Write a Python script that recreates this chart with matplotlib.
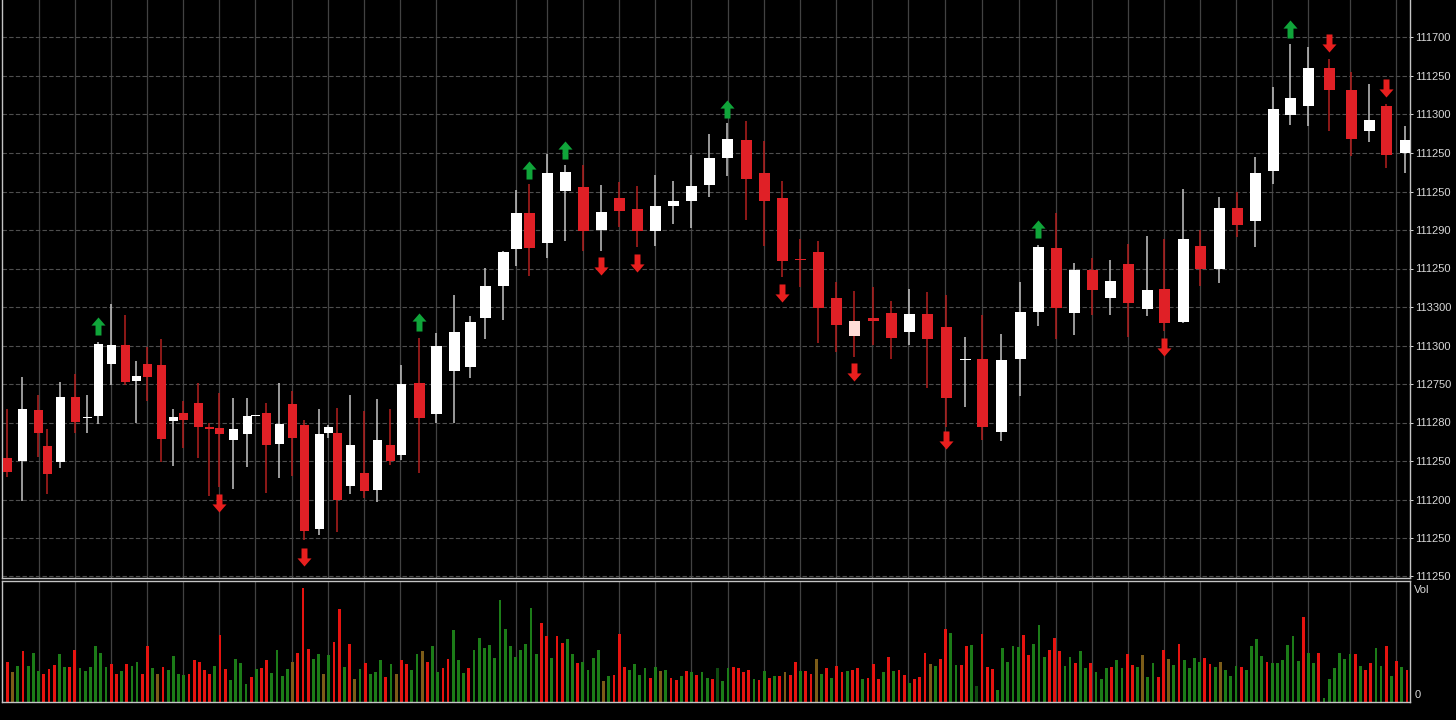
import numpy as np
import matplotlib.pyplot as plt
from matplotlib.path import Path

plt.rcParams['font.family'] = ['Liberation Sans', 'DejaVu Sans']

# candles in chart levels (no usable price scale, labels are garbled)
candle_x = [7, 22, 38, 47, 60, 75, 87, 98, 111, 125, 136, 147, 161, 173, 183, 198, 209, 219, 233, 247, 255, 266, 279, 292,
            304, 319, 328, 337, 350, 364, 377, 390, 401, 419, 436, 454, 470, 485, 503, 516, 529, 547, 565, 583, 601, 619,
            637, 655, 673, 691, 709, 727, 746, 764, 782, 800, 818, 836, 854, 873, 891, 909, 927, 946, 965, 982, 1001,
            1020, 1038, 1056, 1074, 1092, 1110, 1128, 1147, 1164, 1183, 1200, 1219, 1237, 1255, 1273, 1290, 1308, 1329,
            1351, 1369, 1386, 1405]
body_top = [122, 171, 170, 134, 183, 183, 163, 236, 235, 235, 204, 216, 215, 163, 167, 177, 153, 152, 151, 164, 165, 167,
            156, 176, 155, 146, 153, 147, 135, 107, 140, 135, 196, 197, 234, 248, 258, 294, 328, 367, 367, 407, 408, 393,
            368, 382, 371, 374, 379, 394, 422, 441, 440, 407, 382, 321, 328, 282, 259, 262, 267, 266, 266, 253, 221, 221,
            220, 268, 333, 332, 310, 310, 299, 316, 290, 291, 341, 334, 372, 372, 407, 471, 482, 512, 512, 490, 460, 474,
            440]
body_bottom = [108, 119, 147, 106, 118, 158, 162, 164, 216, 198, 199, 203, 141, 159, 160, 153, 151, 146, 140, 146, 164, 135,
               136, 142, 49, 51, 147, 80, 94, 89, 90, 119, 125, 162, 166, 209, 213, 262, 294, 331, 332, 337, 389, 349,
               350, 369, 349, 349, 374, 379, 395, 422, 401, 379, 319, 320, 272, 255, 244, 259, 242, 248, 241, 182, 220, 153,
               148, 221, 268, 272, 267, 290, 282, 277, 271, 257, 258, 311, 311, 355, 359, 409, 465, 474, 490, 441, 449, 425,
               427]
wick_high = [171, 203, 185, 151, 198, 206, 185, 238, 276, 265, 219, 233, 241, 171, 179, 197, 157, 187, 182, 182, 165, 177,
             197, 189, 160, 171, 155, 172, 185, 169, 181, 171, 215, 242, 247, 285, 264, 312, 329, 390, 396, 426, 415, 415,
             395, 398, 394, 405, 399, 425, 446, 457, 459, 439, 399, 341, 339, 298, 289, 293, 279, 291, 288, 285, 243, 265,
             246, 298, 335, 367, 317, 322, 320, 336, 344, 341, 391, 350, 383, 388, 423, 493, 536, 533, 521, 508, 496, 476,
             454]
wick_low = [103, 79, 123, 86, 112, 147, 147, 156, 195, 195, 157, 179, 118, 114, 132, 122, 84, 93, 91, 113, 164, 87,
            102, 104, 40, 45, 142, 48, 86, 82, 78, 115, 120, 107, 157, 157, 202, 241, 260, 314, 304, 322, 339, 329,
            329, 353, 333, 334, 356, 352, 383, 404, 360, 334, 303, 293, 237, 228, 223, 235, 221, 235, 192, 153, 173, 140,
            139, 184, 254, 241, 245, 265, 265, 243, 264, 249, 257, 294, 297, 343, 333, 396, 455, 454, 449, 424, 438, 412,
            407]
candle_kind = ("rwrrwrwwwr" "wrrwrrrrww" "wrwrrwwrwr" "wrwrwwwwww" "rwwrwrrwww"
               "wwrrrrrrpr" "rwrrwrwwwr" "wrwrwrwrwr" "wwwwrrwrw")

up_arrow_x = [98, 419, 529, 565, 727, 1038, 1290]
up_arrow_y = [254, 258, 410, 430, 471, 351, 551]
down_arrow_x = [219, 304, 601, 637, 782, 854, 946, 1164, 1329, 1386]
down_arrow_y = [77, 23, 314, 317, 287, 208, 140, 233, 537, 492]

# volume bars, r = down, g = up, o = muddy overlap, d = dim green
volume = [119, 91, 108, 153, 108, 148, 94, 84, 99, 111,
          143, 104, 106, 155, 103, 93, 106, 167, 146, 104,
          114, 84, 92, 114, 107, 119, 83, 168, 102, 85,
          104, 96, 138, 83, 81, 83, 126, 119, 96, 83,
          107, 201, 98, 67, 130, 116, 54, 74, 99, 103,
          125, 86, 155, 78, 99, 121, 147, 343, 159, 129,
          144, 83, 141, 181, 279, 104, 173, 68, 99, 116,
          84, 90, 125, 76, 113, 85, 125, 115, 95, 143,
          153, 121, 168, 91, 102, 130, 215, 126, 88, 103,
          155, 191,
          163, 171, 131, 306, 218, 168, 136, 155, 174, 282,
          143, 238, 198, 133, 198, 178, 190, 143, 117, 120,
          95, 131, 156, 64, 78, 81, 203, 104, 96, 115,
          80, 103, 73, 104, 93, 96, 71, 65, 77, 94,
          90, 81, 89, 72, 70, 101, 64, 102, 104, 101,
          90, 97, 68, 66, 94, 72, 77, 78, 91, 81,
          119, 93, 93, 84, 129, 84, 103, 72, 108, 89,
          93, 95, 103, 68, 71, 114, 68, 89, 135, 94,
          96, 80, 58, 69, 76, 147, 113, 109, 130, 218,
          207, 112,
          111, 168, 170, 49, 204, 104, 98, 35, 161, 119,
          168, 164, 201, 140, 173, 230, 134, 155, 191, 152,
          108, 134, 117, 153, 101, 117, 90, 69, 103, 106,
          125, 102, 143, 111, 105, 141, 75, 116, 75, 156,
          128, 110, 173, 126, 101, 131, 120, 131, 113, 104,
          119, 96, 78, 108, 104, 96, 169, 190, 138, 119,
          116, 116, 127, 171, 199, 123, 255, 146, 117, 148,
          11, 68, 101, 146, 129, 145, 143, 108, 96, 117,
          161, 109, 168, 78, 122, 105, 96]
volume_kind = ("rogrgggrrr" "ggrrgggggg" "rrgrggrrgo" "rggggrrrrr" "grrggggrgr"
               "rggggorrrg" "gogrrgrogr" "gggrgorrgg" "orggrrgggr" "gg"
               "gggggggggg" "grrgrrggrg" "gggogrrrgg" "ggrgogrrgr" "grggrdggrr"
               "rrgrgrgror" "rgrrogrgrr" "grrgrrrgrg" "rrgrrrogrr" "gg"
               "rrgdrrrggg" "ggrrgggrrr" "ggrggrgggr" "ggrrgoggrr" "ogrggggrrg"
               "ogggrggggr" "ggggggrggr" "ggggggrgrr" "ggrgrgr")

v_grid = [39, 75, 111, 147, 183, 219, 255, 292, 328, 364, 400, 436, 516, 547, 583, 619, 655, 691, 728, 764, 800, 836,
          872, 908, 945, 982, 1019, 1056, 1092, 1128, 1164, 1200, 1236, 1272, 1308, 1350, 1396]
price_ticks = [543, 504.5, 466, 427, 388.5, 350, 311.5, 273, 234.5, 196, 157.5, 119, 80.5, 42, 4]
price_labels = ['111700', '111250', '111300', '111250', '111250', '111290', '111250', '113300', '111300',
                '112750', '111280', '111250', '111200', '111250', '111250']

body_colors = {'r': '#e02026', 'w': '#ffffff', 'p': '#ffdcd8'}
wick_colors = {'r': '#b5201f', 'w': '#c4c4c4', 'p': '#b5201f'}
vol_colors = {'r': '#e6130f', 'g': '#1c7c18', 'o': '#7c5c18', 'd': '#0f4a10'}

up_path = Path([(0, 1), (0.78, 0.1), (0.33, 0.1), (0.33, -1), (-0.33, -1), (-0.33, 0.1), (-0.78, 0.1), (0, 1)], closed=True)
down_path = Path([(0, -1), (0.78, -0.1), (0.33, -0.1), (0.33, 1), (-0.33, 1), (-0.33, -0.1), (-0.78, -0.1), (0, -1)], closed=True)

fig = plt.figure(figsize=(14.56, 7.2), dpi=100, facecolor='black')
ax = fig.add_axes([2 / 1456, 142 / 720, 1408 / 1456, 578 / 720], facecolor='black')
ax_vol = fig.add_axes([2 / 1456, 18 / 720, 1408 / 1456, 121 / 720], facecolor='black')

# grid
for x in v_grid:
    ax.axvline(x, color='#424242', lw=0.9, zorder=1)
    ax_vol.axvline(x, color='#424242', lw=0.9, zorder=1)
for y in price_ticks:
    ax.axhline(y, color='#4e4e4e', lw=0.8, ls=(0, (4, 2)), zorder=1)

# candles
for i in range(len(candle_x)):
    kind = candle_kind[i]
    ax.vlines(candle_x[i], wick_low[i], wick_high[i], color=wick_colors[kind], lw=1.1, zorder=2)
    width = 9 if candle_x[i] < 410 else 11
    height = max(body_top[i] - body_bottom[i], 1.5)
    ax.bar(candle_x[i], height, width=width, bottom=body_bottom[i], color=body_colors[kind], zorder=3)

ax.scatter(up_arrow_x, up_arrow_y, marker=up_path, s=169, color='#10a53a', linewidths=0, zorder=4)
ax.scatter(down_arrow_x, down_arrow_y, marker=down_path, s=169, color='#e81f1e', linewidths=0, zorder=4)

ax.set_xlim(2, 1410)
ax.set_ylim(2, 580)
ax.set_xticks([])
ax.yaxis.tick_right()
ax.set_yticks(price_ticks)
ax.set_yticklabels(price_labels)
ax.tick_params(axis='y', colors='#d8d8d8', labelsize=8, length=2, width=0.7, pad=2)

# volume
vol_x = np.linspace(7.5, 1407, len(volume))
ax_vol.bar(vol_x, volume, width=2.8, color=[vol_colors[k] for k in volume_kind], zorder=2)
ax_vol.set_xlim(2, 1410)
ax_vol.set_ylim(0, 363)
ax_vol.set_xticks([])
ax_vol.set_yticks([])
ax_vol.text(1.003, 0.925, 'Vol', transform=ax_vol.transAxes, color='#d8d8d8', fontsize=8, va='center')
ax_vol.text(1.003, 0.055, '0', transform=ax_vol.transAxes, color='#d8d8d8', fontsize=8, va='center')

for a in [ax, ax_vol]:
    for spine in a.spines.values():
        spine.set_color('#c4c4c4')
        spine.set_linewidth(1.0)
ax.spines['top'].set_visible(False)

fig.savefig('out.png', dpi=100, facecolor='black')
